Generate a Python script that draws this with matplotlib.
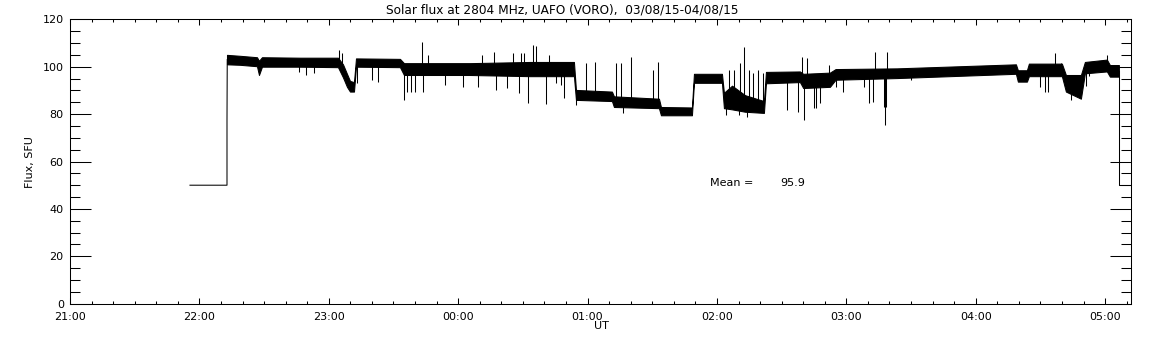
import numpy as np
import matplotlib
matplotlib.use("Agg")
import matplotlib.pyplot as plt
from matplotlib.ticker import FixedLocator, FuncFormatter, MultipleLocator

# ---------------- data ----------------
title = "Solar flux at 2804 MHz, UAFO (VORO),  03/08/15-04/08/15"
mean_value = 95.9

# leading / trailing parts of the record (single line)
lead_t = ["21:55:38", "22:12:48", "22:12:48", "22:12:55"]
lead_v = [50.0, 50.0, 77.5, 103.0]
tail_t = ["05:06:23", "05:06:23", "05:12:00"]
tail_v = [98.0, 50.0, 50.0]

# envelope of the dense noisy record (time, low, high)
band_t = ["22:12:48", "22:18:49", "22:26:42", "22:27:38", "22:29:01", "22:46:39",
          "23:04:16", "23:06:35", "23:08:26", "23:09:50", "23:11:41", "23:12:37",
          "23:33:01", "23:34:52", "00:05:28", "00:33:17", "00:53:41", "00:54:37",
          "01:11:18", "01:12:14", "01:33:06", "01:34:02", "01:48:24", "01:49:20",
          "02:02:19", "02:03:14", "02:07:00", "02:13:00", "02:21:47", "02:22:43",
          "02:38:29", "02:40:00", "02:52:23", "02:55:00", "03:23:27", "04:18:38",
          "04:19:33", "04:23:44", "04:24:39", "04:39:57", "04:41:49", "04:48:46",
          "04:50:37", "05:00:49", "05:02:13", "05:06:23"]
band_lo = [101.0, 100.8, 100.2, 96.5, 100.0, 100.0,
           99.8, 95.5, 91.5, 89.5, 89.5, 100.0,
           99.8, 96.5, 96.5, 96.0, 96.0, 86.0,
           85.5, 83.0, 82.5, 79.5, 79.5, 93.2,
           93.2, 82.5, 82.0, 81.0, 80.5, 93.0,
           93.5, 91.0, 91.5, 94.5, 95.2, 97.0,
           93.7, 93.7, 96.0, 96.0, 89.5, 86.5,
           97.2, 98.0, 95.8, 95.8]
band_hi = [105.0, 104.6, 104.0, 102.5, 104.0, 103.8,
           103.8, 101.0, 97.0, 94.0, 93.5, 103.5,
           103.3, 101.5, 101.5, 102.0, 102.0, 90.2,
           89.5, 87.5, 86.5, 83.0, 82.8, 97.0,
           97.0, 89.0, 92.0, 88.0, 85.5, 97.8,
           98.0, 97.0, 97.5, 99.0, 99.3, 101.0,
           98.5, 98.5, 101.3, 101.3, 96.5, 96.5,
           102.0, 103.0, 100.7, 100.7]

# isolated spikes (time, extreme value)
spike_t = ["22:46:21", "22:49:36", "22:53:09", "23:04:46", "23:06:18", "23:13:04",
           "23:20:02", "23:22:49", "23:34:44", "23:36:09", "23:38:00", "23:39:52",
           "23:43:05", "23:43:52", "23:46:09", "23:54:01", "00:02:22", "00:09:23",
           "00:11:05", "00:16:45", "00:17:32", "00:22:47", "00:25:15", "00:28:21",
           "00:29:07", "00:30:40", "00:32:14", "00:34:33", "00:36:05", "00:40:42",
           "00:42:15", "00:45:20", "00:47:40", "00:49:12", "00:54:51", "00:59:29",
           "01:03:20", "01:13:24", "01:15:43", "01:16:14", "01:20:03", "01:30:07",
           "01:32:43", "02:04:02", "02:05:26", "02:07:45", "02:10:04", "02:10:37",
           "02:12:23", "02:13:56", "02:14:42", "02:16:34", "02:18:53", "02:19:40",
           "02:21:13", "02:32:21", "02:37:45", "02:39:19", "02:40:13", "02:41:49",
           "02:44:55", "02:45:49", "02:47:40", "02:52:00", "02:55:10", "02:58:14",
           "03:08:23", "03:10:24", "03:12:12", "03:13:18", "03:17:21", "03:17:49",
           "03:18:24", "03:18:38", "03:29:55", "04:29:36", "04:31:55", "04:33:18",
           "04:36:35", "04:39:31", "04:44:00", "04:51:02", "04:52:34", "05:00:49"]
spike_v = [97.9, 96.5, 97.2, 107.0, 105.6, 93.0,
           94.4, 93.7, 85.9, 89.5, 89.5, 89.5,
           110.5, 89.5, 105.0, 92.3, 91.6, 91.6,
           104.9, 106.3, 90.2, 90.9, 105.6, 88.8,
           105.6, 105.6, 84.6, 109.2, 108.6, 84.3,
           104.9, 93.0, 92.3, 86.7, 84.0, 101.4,
           102.1, 101.4, 101.4, 80.3, 104.2, 98.6,
           102.1, 79.5, 98.6, 98.6, 79.5, 101.4,
           108.4, 78.8, 98.6, 97.2, 98.6, 81.0,
           97.2, 81.7, 81.0, 104.2, 77.5, 103.5,
           82.4, 82.4, 84.6, 100.7, 91.6, 89.5,
           91.6, 84.6, 85.2, 106.3, 83.1, 75.4,
           83.1, 106.3, 94.4, 91.6, 89.5, 89.5,
           105.6, 101.4, 86.0, 92.0, 96.0, 104.9]

xmin_t, xmax_t = "21:00:00", "05:12:00"
hour_ticks = [21, 22, 23, 24, 25, 26, 27, 28, 29]


def to_h(s):
    h, m, sec = (int(p) for p in s.split(":"))
    v = h + m / 60 + sec / 3600
    return v + 24 if v < 12 else v


lt = np.array([to_h(s) for s in lead_t])
tt = np.array([to_h(s) for s in tail_t])
bt = np.array([to_h(s) for s in band_t])
blo = np.array(band_lo)
bhi = np.array(band_hi)
st = np.array([to_h(s) for s in spike_t])
sv = np.array(spike_v)
base = np.interp(st, bt, (blo + bhi) / 2)

# ---------------- figure ----------------
plt.rcParams["font.family"] = ["DejaVu Sans"]
W, H = 1152, 345
fig = plt.figure(figsize=(W / 100, H / 100), dpi=100)
ax = fig.add_axes([70 / W, 1 - 303.7 / H, (1131 - 70) / W, (303.7 - 19.3) / H])

lw = 0.75
ax.plot(lt, lead_v, color="black", lw=lw)
ax.plot(tt, tail_v, color="black", lw=lw)
ax.fill_between(bt, blo, bhi, color="black", lw=lw, edgecolor="black")
ax.vlines(st, base, sv, color="black", lw=lw)

ax.set_xlim(to_h(xmin_t), to_h(xmax_t))
ax.set_ylim(0, 120)

ax.xaxis.set_major_locator(FixedLocator(hour_ticks))
ax.xaxis.set_minor_locator(MultipleLocator(1 / 6))
ax.xaxis.set_major_formatter(FuncFormatter(lambda v, p: f"{int(round(v)) % 24:02d}:00"))
ax.yaxis.set_major_locator(MultipleLocator(20))
ax.yaxis.set_minor_locator(MultipleLocator(5))

for sp in ax.spines.values():
    sp.set_linewidth(lw)

ax.tick_params(axis="both", which="both", direction="in", top=True, right=True,
               width=lw, labelsize=8)
ax.tick_params(axis="y", which="major", length=15, pad=4.5)
ax.tick_params(axis="y", which="minor", length=7.5)
ax.tick_params(axis="x", which="major", length=4, pad=6)
ax.tick_params(axis="x", which="minor", length=2)

fig.text(562 / W, 1 - 10 / H, title, ha="center", va="center", fontsize=8.7)
fig.text(601 / W, 1 - 326 / H, "UT", ha="center", va="center", fontsize=8)
fig.text(30 / W, 1 - 162 / H, "Flux, SFU", ha="center", va="center",
         rotation=90, fontsize=8)

ax.text(to_h("04:14:40") - 24 + 24 if False else 21 + (710 - 70) / 129.4, 50.9,
        "Mean =", ha="left", va="center", fontsize=8)
ax.text(21 + (780 - 70) / 129.4, 50.9, f"{mean_value:.1f}", ha="left",
        va="center", fontsize=8)

fig.savefig("out.png", dpi=100)
